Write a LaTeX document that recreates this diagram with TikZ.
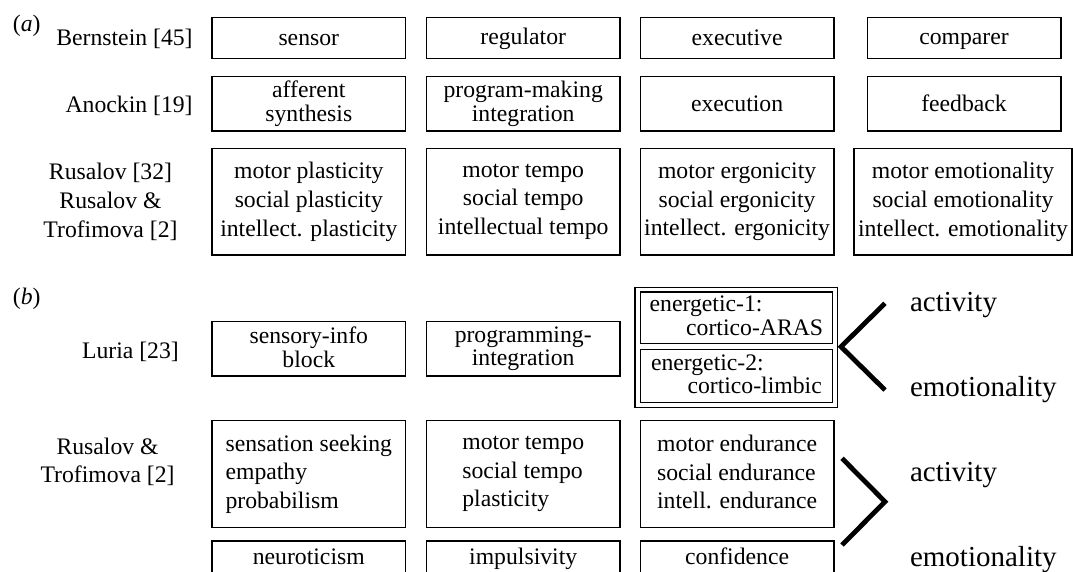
\documentclass[tikz,border=0pt]{standalone}
\usepackage{fontspec}
\setmainfont{Liberation Serif}
\newcommand{\mystrut}{\rule[-4pt]{0pt}{22.6pt}}
\begin{document}
\begin{tikzpicture}[x=1pt,y=-1pt,
  struts/.style={execute at begin node=\mystrut, execute at end node=\mystrut},
  box/.style={draw, line width=1.5pt, inner sep=0pt, minimum width=193.5pt,
    font=\fontsize{23.7}{28.7}\selectfont, align=center, struts},
  two/.style={font=\fontsize{23.7}{23.7}\selectfont},
  inbox/.style={draw, line width=1.3pt, inner sep=0pt, minimum width=191.8pt,
    font=\fontsize{23.7}{23.3}\selectfont, align=left, struts},
  lab/.style={inner sep=0pt, font=\fontsize{23.7}{29.3}\selectfont, align=center, struts},
  big/.style={inner sep=0pt, anchor=west, font=\fontsize{29}{34}\selectfont,
    text height=21.8pt, text depth=5.8pt},
  chev/.style={line width=4.8pt, line join=miter}]
\useasboundingbox (0,0) rectangle (1073,571);
\clip (0,0) rectangle (1073,571);

% ---------------- (a)
\node[lab, anchor=west] (la) at (12.7,25) {(\textit{a})};
\node[lab, anchor=east] (lbern) at (192.8,38) {Bernstein [45]};
\node[lab, anchor=east] (lanoc) at (192.8,105.5) {Anockin [19]};
\node[lab] (lrus) at (110.5,202.3) {Rusalov [32]\\Rusalov \&\\Trofimova [2]};

\node[box, minimum height=41pt] (a11) at (308.8,37.8) {sensor};
\node[box, minimum height=41pt] (a12) at (523.2,37.8) {regulator};
\node[box, minimum height=41pt] (a13) at (737.1,37.8) {executive};
\node[box, minimum height=41pt] (a14) at (964,37.8) {comparer};

\node[box, two, minimum height=54.7pt] (a21) at (308.8,103.7) {afferent\\synthesis};
\node[box, two, minimum height=54.7pt] (a22) at (523.2,103.7) {program-making\\integration};
\node[box, two, minimum height=54.7pt] (a23) at (737.1,103.7) {execution};
\node[box, two, minimum height=54.7pt] (a24) at (964,103.7) {feedback};

\node[box, minimum height=106.3pt] (a31) at (308.8,201.8) {motor plasticity\\social plasticity\\intellect. plasticity};
\node[box, minimum height=106.3pt] (a32) at (523.2,201.8) {motor tempo\\social tempo\\intellectual tempo};
\node[box, minimum height=106.3pt] (a33) at (737.1,201.8) {motor ergonicity\\social ergonicity\\intellect. ergonicity};
\node[box, minimum height=106.3pt, minimum width=218pt] (a34) at (963,201.8) {motor emotionality\\social emotionality\\intellect. emotionality};

% ---------------- (b)
\node[lab, anchor=west] (lb) at (12.7,298) {(\textit{b})};
\node[lab, anchor=east] (lluria) at (179,351) {Luria [23]};
\node[lab, font=\fontsize{23.7}{28.3}\selectfont] (lrus2) at (107.6,462) {Rusalov \&\\Trofimova [2]};

\node[box, two, minimum height=54.3pt] (b11) at (308.8,348.8) {sensory-info\\block};
\node[box, two, minimum height=54.3pt] (b12) at (523.2,348.8) {programming-\\integration};

\node[draw, line width=1.3pt, inner sep=0pt, minimum width=202.5pt, minimum height=120pt] (dbl) at (736.2,347.3) {};
\node[inbox, minimum height=51.3pt] (e1) at (736.4,317.7) {energetic-1:\\\hspace*{36.5pt}cortico-ARAS};
\node[inbox, minimum height=53.4pt] (e2) at (736.4,376) {energetic-2:\\\hspace*{36.5pt}cortico-limbic};

\coordinate (c1a) at (885,303.3);
\coordinate (c1b) at (841,346.7);
\coordinate (c1c) at (885,390);
\draw[chev] (c1a) -- (c1b) -- (c1c);
\node[big] (act1) at (909.8,303.5) {activity};
\node[big] (emo1) at (909.8,388.5) {emotionality};

\node[box, align=left, minimum height=106.6pt] (b21) at (308.8,474) {sensation seeking\\empathy\\probabilism};
\node[box, align=left, minimum height=106.6pt] (b22) at (523.2,474) {motor tempo\\social tempo\\plasticity};
\node[box, align=left, minimum height=106.6pt] (b23) at (737.1,474) {motor endurance\\social endurance\\intell. endurance};

\coordinate (c2a) at (842,458.3);
\coordinate (c2b) at (885,501.7);
\coordinate (c2c) at (842,545);
\draw[chev] (c2a) -- (c2b) -- (c2c);
\node[big] (act2) at (909.8,473.5) {activity};
\node[big] (emo2) at (909.8,558.5) {emotionality};

\node[box, struts/.style={}, anchor=north, text height=23.3pt, text depth=36.7pt] (b31) at (308.8,540) {neuroticism};
\node[box, struts/.style={}, anchor=north, text height=23.3pt, text depth=36.7pt] (b32) at (523.2,540) {impulsivity};
\node[box, struts/.style={}, anchor=north, text height=23.3pt, text depth=36.7pt] (b33) at (737.1,540) {confidence};
\end{tikzpicture}
\end{document}
